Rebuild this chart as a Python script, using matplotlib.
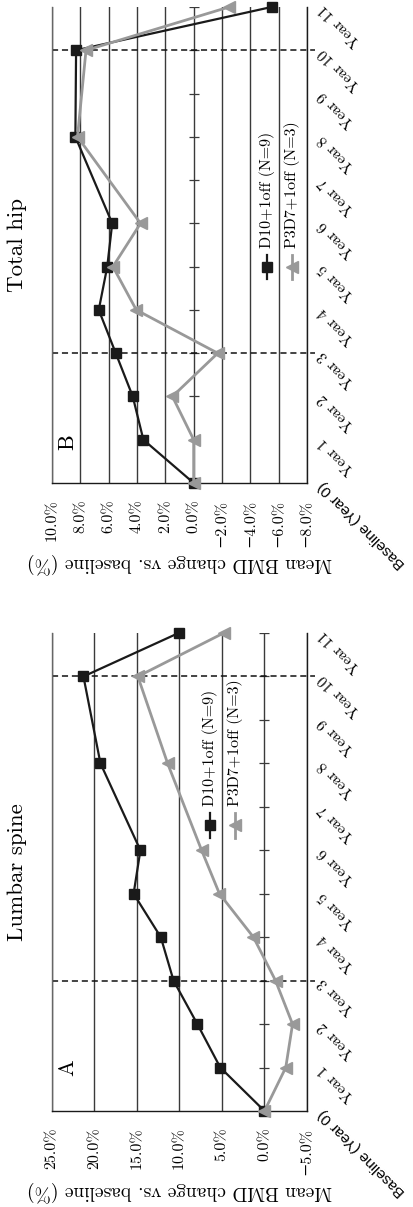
import matplotlib
matplotlib.use("Agg")
import matplotlib.pyplot as plt
from matplotlib.lines import Line2D

plt.rcParams['font.family'] = ['cmr10', 'DejaVu Serif']
plt.rcParams['axes.formatter.use_mathtext'] = True

# ---------------- data ----------------
years = [0, 1, 2, 3, 4, 5, 6, 8, 10, 11]
year_ticks = [0, 1, 2, 3, 4, 5, 6, 7, 8, 9, 10, 11]
year_labels = ['Baseline (Year 0)', 'Year 1', 'Year 2', 'Year 3', 'Year 4', 'Year 5',
               'Year 6', 'Year 7', 'Year 8', 'Year 9', 'Year 10', 'Year 11']
phase_years = [3, 10]

series_names = ['D10+1off (N=9)', 'P3D7+1off (N=3)']

lumbar_d10 = [0.0, 5.2, 7.9, 10.7, 12.2, 15.4, 14.6, 19.3, 21.3, 10.1]
lumbar_p3d7 = [0.0, -2.5, -3.3, -1.3, 1.3, 5.3, 7.4, 11.4, 14.9, 4.8]
lumbar_ticks = [25, 20, 15, 10, 5, 0, -5]
lumbar_tick_labels = ['25.0%', '20.0%', '15.0%', '10.0%', '5.0%', '0.0%', '\u22125.0%']

hip_d10 = [0.0, 3.55, 4.3, 5.5, 6.7, 6.1, 5.75, 8.35, 8.3, -5.5]
hip_p3d7 = [0.0, 0.0, 1.5, -1.7, 4.05, 5.7, 3.75, 8.2, 7.6, -2.5]
hip_ticks = [10, 8, 6, 4, 2, 0, -2, -4, -6, -8]
hip_tick_labels = ['10.0%', '8.0%', '6.0%', '4.0%', '2.0%', '0.0%',
                   '\u22122.0%', '\u22124.0%', '\u22126.0%', '\u22128.0%']

ylabel = 'Mean BMD change vs. baseline (%)'

# ---------------- figure ----------------
W, H = 414, 1207
fig = plt.figure(figsize=(W / 100, H / 100), dpi=100)


def px_axes(x0, y0, x1, y1):
    return fig.add_axes([x0 / W, 1 - y1 / H, (x1 - x0) / W, (y1 - y0) / H])


BLACK = '#1a1a1a'
GRAY = '#999999'
GRID = '#3a3a3a'


def draw_panel(ax, title, letter, ticks, tick_labels, d10, p3d7, letter_pos, legend_pos):
    ax.set_xlim(ticks[0], ticks[-1])
    ax.set_ylim(0, 11)
    ax.set_xticks(ticks)
    ax.set_xticklabels(tick_labels, rotation=90, va='top', ha='center', fontsize=11.5)
    ax.tick_params(axis='x', length=0, pad=12)
    ax.set_yticks([])
    ax.grid(axis='x', color=GRID, lw=1.0)
    ax.set_axisbelow(True)
    ax.spines['top'].set_visible(False)
    ax.spines['left'].set_color('#666666')
    ax.spines['left'].set_linewidth(1.0)
    ax.spines['right'].set_color(BLACK)
    ax.spines['right'].set_linewidth(1.0)
    ax.spines['bottom'].set_color(BLACK)
    ax.spines['bottom'].set_linewidth(1.0)

    # small ticks along the zero line
    ax.plot([0] * (len(year_ticks) - 1), year_ticks[1:], ls='none', marker='_',
            ms=7, mew=0.9, color=GRID, zorder=2)

    for yr in phase_years:
        ax.axhline(yr, xmin=0, xmax=1.03, color='#111111', lw=1.1,
                   ls=(0, (4, 2.5)), clip_on=False, zorder=2)

    ax.plot(d10, years, color=BLACK, lw=1.6, marker='s', ms=7, zorder=4, clip_on=False)
    ax.plot(p3d7, years, color=GRAY, lw=2.0, marker='<', ms=8, zorder=5, clip_on=False)

    # category labels on the right
    for yr, lab in zip(year_ticks, year_labels):
        fam = ['Liberation Sans', 'DejaVu Sans'] if yr == 0 else ['cmr10', 'DejaVu Serif']
        ax.annotate(lab, xy=(1, yr), xycoords=('axes fraction', 'data'),
                    xytext=(10, 0), textcoords='offset points', rotation=135,
                    rotation_mode='anchor', ha='right', va='center',
                    fontsize=11 if yr else 11, family=fam, annotation_clip=False)

    # title on the left
    ax.annotate(title, xy=(0, 0.5), xycoords='axes fraction', xytext=(-25, 0),
                textcoords='offset points', rotation=90, ha='center', va='center',
                fontsize=16.5)
    # y label under
    ax.annotate(ylabel, xy=(0.5, 0), xycoords='axes fraction', xytext=(0, -58),
                textcoords='offset points', rotation=180, ha='center', va='center',
                fontsize=14)
    # panel letter
    ax.text(letter_pos[0], letter_pos[1], letter, transform=ax.transAxes, rotation=90,
            ha='center', va='center', fontsize=16)

    # legend (rotated)
    lx, ly = legend_pos
    for i, (name, col, mk, lw, ms) in enumerate(zip(series_names, [BLACK, GRAY], ['s', '<'],
                                                   [1.6, 2.0], [7, 8])):
        x = lx + i * 0.098
        ln = Line2D([x, x], [ly - 0.026, ly + 0.026], transform=ax.transAxes, color=col,
                    lw=lw, clip_on=False)
        ax.add_line(ln)
        mkr = Line2D([x], [ly], transform=ax.transAxes, color=col, marker=mk, ms=ms,
                     ls='none', clip_on=False)
        ax.add_line(mkr)
        ax.text(x, ly + 0.04, name, transform=ax.transAxes, rotation=90, ha='center',
                va='bottom', fontsize=11.5)


axA = px_axes(52, 633, 307, 1111)
axB = px_axes(52, 7, 307, 483)

draw_panel(axA, 'Lumbar spine', 'A', lumbar_ticks, lumbar_tick_labels, lumbar_d10, lumbar_p3d7,
           (0.059, 0.09), (0.62, 0.598))
draw_panel(axB, 'Total hip', 'B', hip_ticks, hip_tick_labels, hip_d10, hip_p3d7,
           (0.059, 0.086), (0.843, 0.454))

fig.savefig('out.png', dpi=100)
